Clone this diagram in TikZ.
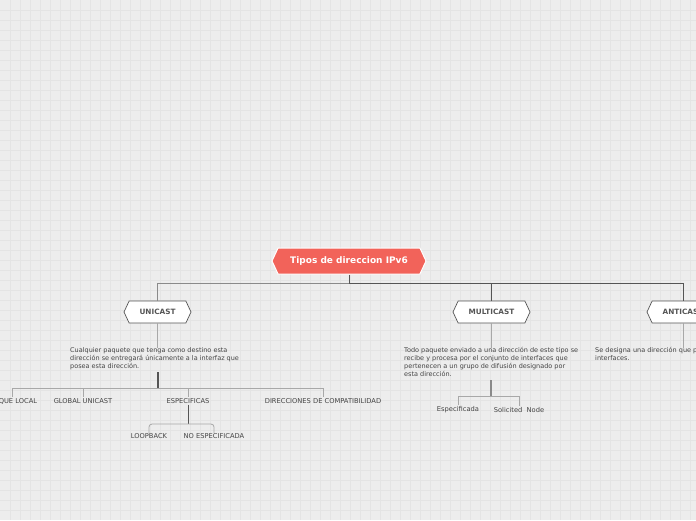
\documentclass[tikz,border=0pt]{standalone}
\usepackage{fontspec}
\setmainfont{DejaVu Sans}
\usetikzlibrary{shapes.symbols}
\definecolor{bgc}{HTML}{EDEDED}
\definecolor{gridc}{HTML}{E4E4E4}
\definecolor{rootred}{HTML}{F2635A}
\definecolor{darkl}{HTML}{555555}
\definecolor{midl}{HTML}{8A8A8A}
\definecolor{lightl}{HTML}{A8A8A8}
\definecolor{txt}{HTML}{444444}
\tikzset{
  rootbox/.style={signal, signal to=east and west, signal pointer angle=130,
    fill=rootred, draw=white, line width=1pt, text=white,
    font=\bfseries\fontsize{9}{10}\selectfont, minimum width=154, minimum height=26, inner sep=0pt},
  typebox/.style={signal, signal to=east and west, signal pointer angle=130,
    fill=white, draw=darkl, line width=0.7pt, text=darkl,
    font=\bfseries\fontsize{7.3}{8}\selectfont, minimum height=22, inner sep=0pt},
  desc/.style={anchor=north west, align=left, text=txt, inner sep=0pt,
    font=\fontsize{6.5}{8}\selectfont},
  lab/.style={text=txt, inner sep=1pt, font=\fontsize{6.7}{7}\selectfont},
  darkline/.style={draw=darkl, line width=1.4pt},
  midline/.style={draw=midl, line width=0.9pt},
  lightline/.style={draw=lightl, line width=0.8pt},
}
\begin{document}
\begin{tikzpicture}[x=1pt,y=-1pt]
\useasboundingbox (0,0) rectangle (696,520);
\clip (0,0) rectangle (696,520);
\fill[bgc] (0,0) rectangle (696,520);
\foreach \i in {10,20,...,690} \draw[gridc, line width=0.5pt] (\i,0) -- (\i,520);
\foreach \j in {10,20,...,510} \draw[gridc, line width=0.5pt] (0,\j) -- (696,\j);

% main nodes
\node[rootbox] (root) at (349,261) {Tipos de direccion IPv6};
\node[typebox, minimum width=67] (uni) at (157.5,312) {UNICAST};
\node[typebox, minimum width=77] (multi) at (491.5,312) {MULTICAST};
\node[typebox, minimum width=72] (anti) at (683,312) {ANTICAST};

\coordinate (bus) at (349,283);
\draw[darkline, line width=1pt] (root.south) -- (bus);
\draw[midline] (bus) -| (uni.north);
\draw[darkline, line width=1pt] (bus) -| (multi.north);
\draw[darkline, line width=1pt] (bus) -| (anti.north);

% descriptions
\node[desc] (unitext) at (70,347.5) {Cualquier paquete que tenga como destino esta\\dirección se entregará únicamente a la interfaz que\\posea esta dirección.};
\node[desc] (multitext) at (404,347.5) {Todo paquete enviado a una dirección de este tipo se\\recibe y procesa por el conjunto de interfaces que\\pertenecen a un grupo de difusión designado por\\esta dirección.};
\node[desc] (antitext) at (595,347.5) {Se designa una dirección que pertenece a varias\\interfaces.};

\draw[lightline] (uni.south) -- (uni.south |- unitext.north);
\draw[lightline] (multi.south) -- (multi.south |- multitext.north);
\draw[lightline] (anti.south) -- (anti.south |- antitext.north);

% unicast children
\coordinate (ubus) at (158,388);
\node[lab] (ul) at (12,401) {UNIQUE LOCAL};
\node[lab] (gu) at (83,401) {GLOBAL UNICAST};
\node[lab] (esp) at (188,401) {ESPECIFICAS};
\node[lab] (dc) at (323,401) {DIRECCIONES DE COMPATIBILIDAD};
\draw[darkline] (ubus |- unitext.south) ++(0,2) -- (ubus);
\draw[lightline] (ul.north) -- (ul.north |- ubus) -- (dc.north |- ubus) -- (dc.north);
\draw[lightline] (gu.north |- ubus) -- (gu.north);
\draw[lightline] (esp.north |- ubus) -- (esp.north);

\node[lab] (lb) at (149,436.5) {LOOPBACK};
\node[lab] (ne) at (214,436.5) {NO ESPECIFICADA};
\coordinate (ebus) at (188,424);
\draw[darkline, line width=1pt] (esp.south) -- (ebus);
\draw[lightline, rounded corners=3pt] (lb.north) -- (lb.north |- ebus) -- (ne.north |- ebus) -- (ne.north);

% multicast children
\node[lab] (me) at (458,409.5) {Especificada};
\node[lab] (ms) at (519,409.5) {Solicited\ \ Node};
\coordinate (mbus) at (491,396);
\draw[midline, line width=1.2pt] (mbus |- multitext.south) ++(0,3) -- (mbus);
\draw[lightline] (me.north) -- (me.north |- mbus) -- (ms.north |- mbus) -- (ms.north);
\end{tikzpicture}
\end{document}
